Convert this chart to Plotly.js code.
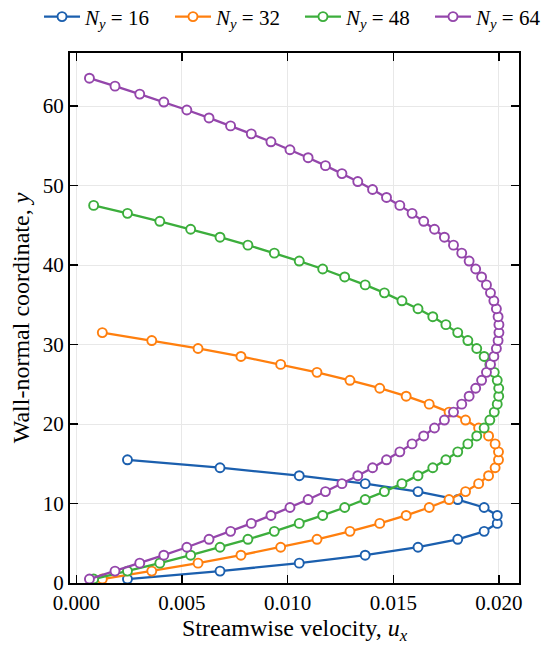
<!DOCTYPE html>
<html>
<head>
<meta charset="utf-8">
<script src="https://cdn.plot.ly/plotly-3.0.1.min.js"></script>
<style>html,body{margin:0;padding:0;background:#fff;}</style>
</head>
<body>
<div id="chart" style="width:550px;height:649px;"></div>
<script>
// Wall-normal positions (cell centres) for each resolution
const y16 = [0.5,1.5,2.5,3.5,4.5,5.5,6.5,7.5,8.5,9.5,10.5,11.5,12.5,13.5,14.5,15.5];
const u16 = [0.00242,0.00680,0.01055,0.01367,0.01617,0.01805,0.01930,0.01992,0.01992,0.01930,0.01805,0.01617,0.01367,0.01055,0.00680,0.00242];

const y32 = [0.5,1.5,2.5,3.5,4.5,5.5,6.5,7.5,8.5,9.5,10.5,11.5,12.5,13.5,14.5,15.5,16.5,17.5,18.5,19.5,20.5,21.5,22.5,23.5,24.5,25.5,26.5,27.5,28.5,29.5,30.5,31.5];
const u32 = [0.00123,0.00357,0.00576,0.00779,0.00967,0.01139,0.01295,0.01436,0.01561,0.01670,0.01764,0.01842,0.01904,0.01951,0.01982,0.01998,
             0.01998,0.01982,0.01951,0.01904,0.01842,0.01764,0.01670,0.01561,0.01436,0.01295,0.01139,0.00967,0.00779,0.00576,0.00357,0.00123];

const y48 = [0.5,1.5,2.5,3.5,4.5,5.5,6.5,7.5,8.5,9.5,10.5,11.5,12.5,13.5,14.5,15.5,16.5,17.5,18.5,19.5,20.5,21.5,22.5,23.5,
             24.5,25.5,26.5,27.5,28.5,29.5,30.5,31.5,32.5,33.5,34.5,35.5,36.5,37.5,38.5,39.5,40.5,41.5,42.5,43.5,44.5,45.5,46.5,47.5];
const u48 = [0.00082,0.00242,0.00395,0.00541,0.00680,0.00812,0.00937,0.01055,0.01166,0.01270,0.01367,0.01458,0.01541,0.01617,0.01687,0.01749,
             0.01805,0.01853,0.01895,0.01930,0.01957,0.01978,0.01992,0.01999,0.01999,0.01992,0.01978,0.01957,0.01930,0.01895,0.01853,0.01805,
             0.01749,0.01687,0.01617,0.01541,0.01458,0.01367,0.01270,0.01166,0.01055,0.00937,0.00812,0.00680,0.00541,0.00395,0.00242,0.00082];

const y64 = [0.5,1.5,2.5,3.5,4.5,5.5,6.5,7.5,8.5,9.5,10.5,11.5,12.5,13.5,14.5,15.5,16.5,17.5,18.5,19.5,20.5,21.5,22.5,23.5,24.5,25.5,26.5,27.5,28.5,29.5,30.5,31.5,
             32.5,33.5,34.5,35.5,36.5,37.5,38.5,39.5,40.5,41.5,42.5,43.5,44.5,45.5,46.5,47.5,48.5,49.5,50.5,51.5,52.5,53.5,54.5,55.5,56.5,57.5,58.5,59.5,60.5,61.5,62.5,63.5];
const u64 = [0.00062,0.00183,0.00300,0.00414,0.00523,0.00628,0.00730,0.00828,0.00921,0.01011,0.01097,0.01179,0.01257,0.01332,0.01402,0.01468,
             0.01531,0.01589,0.01644,0.01695,0.01742,0.01785,0.01824,0.01859,0.01890,0.01918,0.01941,0.01960,0.01976,0.01988,0.01996,0.02000,
             0.02000,0.01996,0.01988,0.01976,0.01960,0.01941,0.01918,0.01890,0.01859,0.01824,0.01785,0.01742,0.01695,0.01644,0.01589,0.01531,
             0.01468,0.01402,0.01332,0.01257,0.01179,0.01097,0.01011,0.00921,0.00828,0.00730,0.00628,0.00523,0.00414,0.00300,0.00183,0.00062];

const seriesNames = ['<i>N<sub>y</sub></i> = 16','<i>N<sub>y</sub></i> = 32','<i>N<sub>y</sub></i> = 48','<i>N<sub>y</sub></i> = 64'];
const colors = ['#1b5fae','#ff7f0e','#3cae3c','#9446ab'];
const xs = [u16,u32,u48,u64];
const ys = [y16,y32,y48,y64];

const xTicks = [0,0.005,0.010,0.015,0.020];
const xTickText = ['0.000','0.005','0.010','0.015','0.020'];
const yTicks = [0,10,20,30,40,50,60];

const legendIds = ['legend','legend2','legend3','legend4'];
const legendX = [-0.069, 0.2227, 0.5122, 0.8018];

const traces = xs.map((x,i)=>({
  x:x, y:ys[i], type:'scatter', mode:'lines+markers', name:seriesNames[i],
  legend:legendIds[i],
  line:{color:colors[i], width:2.3},
  marker:{symbol:'circle', size:9, color:'#ffffff', line:{color:colors[i], width:1.9}}
}));

const font = 'Liberation Serif, Times New Roman, serif';
const layout = {
  width:550, height:649,
  margin:{l:70, r:31, t:53, b:66, autoexpand:false},
  paper_bgcolor:'#fff', plot_bgcolor:'#fff',
  font:{family:font, size:21, color:'#000'},
  showlegend:true,
  xaxis:{
    range:[-0.0003,0.02095], tickvals:xTicks, ticktext:xTickText,
    ticks:'inside', ticklen:8, tickwidth:1.3, tickcolor:'#000',
    showline:true, linecolor:'#000', linewidth:2, mirror:'ticks',
    showgrid:true, gridcolor:'#e8e8e8', gridwidth:1, zeroline:false,
    tickfont:{family:font, size:21},
    title:{text:'Streamwise velocity, <i>u<sub>x</sub></i>', font:{family:font, size:24}, standoff:4}
  },
  yaxis:{
    range:[0,66.67], tickvals:yTicks,
    ticks:'inside', ticklen:8, tickwidth:1.3, tickcolor:'#000',
    showline:true, linecolor:'#000', linewidth:2, mirror:'ticks',
    showgrid:true, gridcolor:'#e8e8e8', gridwidth:1, zeroline:false,
    tickfont:{family:font, size:21},
    title:{text:'Wall-normal coordinate, <i>y</i>', font:{family:font, size:24}, standoff:6}
  }
};
legendIds.forEach((id,i)=>{
  layout[id] = {orientation:'h', x:legendX[i], xanchor:'left', y:1.068, yanchor:'middle',
                font:{family:font, size:21}, itemwidth:36, bgcolor:'rgba(0,0,0,0)'};
});
Plotly.newPlot('chart', traces, layout, {displayModeBar:false, staticPlot:true});
</script>
</body>
</html>
